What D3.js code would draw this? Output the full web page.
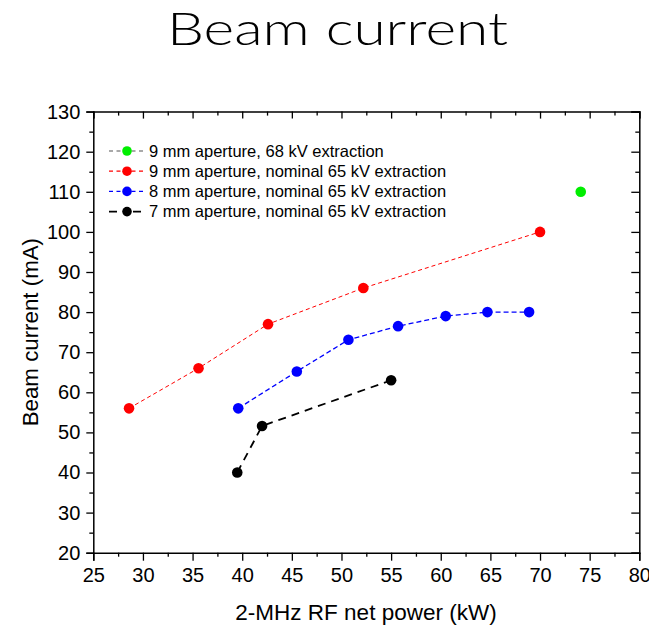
<!DOCTYPE html>
<html>
<head>
<meta charset="utf-8">
<script src="https://cdn.jsdelivr.net/npm/d3@7"></script>
<style>
  html, body { margin: 0; padding: 0; background: #fff; }
  svg { display: block; }
</style>
</head>
<body>
<div id="chart"></div>
<script>
// Beam current versus RF net power for several aperture sizes
const xTicks = [25, 30, 35, 40, 45, 50, 55, 60, 65, 70, 75, 80];
const yTicks = [20, 30, 40, 50, 60, 70, 80, 90, 100, 110, 120, 130];

const green68kV = [[74.1, 110]];
const red9mm = [[28.6, 56], [35.6, 66], [42.6, 77], [52.2, 86], [70.0, 100]];
const blue8mm = [[39.6, 56], [45.5, 65.2], [50.7, 73.1], [55.7, 76.5], [60.5, 79], [64.7, 80], [68.9, 80]];
const black7mm = [[39.5, 40], [42.0, 51.6], [55.0, 63]];

const seriesNames = [
  "9 mm aperture, 68 kV extraction",
  "9 mm aperture, nominal 65 kV extraction",
  "8 mm aperture, nominal 65 kV extraction",
  "7 mm aperture, nominal 65 kV extraction"
];
const seriesColors = ["#00ee00", "#ff0000", "#0000ff", "#000000"];
const seriesData = [green68kV, red9mm, blue8mm, black7mm];
const seriesDash = ["4,3", "4,3", "5,3", "8,6"];
const seriesWidth = [1, 1, 1.3, 1.8];

const W = 649, H = 627;
const svg = d3.select("#chart").append("svg").attr("width", W).attr("height", H);

const x = d3.scaleLinear().domain([25, 80]).range([93.3, 639.3]);
const y = d3.scaleLinear().domain([20, 130]).range([552.7, 111.6]);

const font = "'Liberation Sans', Arial, sans-serif";

// Title
svg.append("text")
  .attr("x", 167).attr("y", 45)
  .attr("font-family", "Lato, 'Open Sans', sans-serif")
  .attr("font-weight", 300)
  .attr("font-size", 46)
  .attr("textLength", 341)
  .attr("lengthAdjust", "spacingAndGlyphs")
  .attr("fill", "#000")
  .text("Beam current");

// Minor tick values (halfway between majors)
const xMinor = d3.range(27.5, 80, 5);
const yMinor = d3.range(25, 130, 10);

const axisG = svg.append("g");

// Bottom axis: outward ticks with labels
const axBottom = axisG.append("g").attr("transform", `translate(0,${y(20)})`)
  .call(d3.axisBottom(x).tickValues(xTicks).tickSize(8).tickPadding(7).tickFormat(d3.format("d")));
axBottom.append("g").attr("class", "minor").call(d3.axisBottom(x).tickValues(xMinor).tickSize(4).tickFormat(""));

// Left axis: outward ticks with labels
const axLeft = axisG.append("g").attr("transform", `translate(${x(25)},0)`)
  .call(d3.axisLeft(y).tickValues(yTicks).tickSize(7).tickPadding(6).tickFormat(d3.format("d")));
axLeft.append("g").attr("class", "minor").call(d3.axisLeft(y).tickValues(yMinor).tickSize(4).tickFormat(""));

// Top axis: inward ticks, no labels
const axTop = axisG.append("g").attr("transform", `translate(0,${y(130)})`)
  .call(d3.axisTop(x).tickValues(xTicks).tickSize(-7).tickFormat(""));
axTop.append("g").attr("class", "minor").call(d3.axisTop(x).tickValues(xMinor).tickSize(-4).tickFormat(""));

// Right axis: inward ticks, no labels
const axRight = axisG.append("g").attr("transform", `translate(${x(80)},0)`)
  .call(d3.axisRight(y).tickValues(yTicks).tickSize(-8).tickFormat(""));
axRight.append("g").attr("class", "minor").call(d3.axisRight(y).tickValues(yMinor).tickSize(-4).tickFormat(""));

axisG.selectAll(".domain").attr("stroke", "#000").attr("stroke-width", 1.5);
axisG.selectAll(".minor .domain").attr("stroke", "none");
axisG.selectAll(".tick line").attr("stroke", "#000").attr("stroke-width", 1.3);
axisG.selectAll(".tick text")
  .attr("font-family", font).attr("font-size", 20).attr("fill", "#000");

// Axis titles
svg.append("text")
  .attr("x", 366).attr("y", 620)
  .attr("text-anchor", "middle")
  .attr("font-family", font).attr("font-size", 22.5)
  .text("2-MHz RF net power (kW)");

svg.append("text")
  .attr("transform", `translate(38,${(y(20) + y(130)) / 2}) rotate(-90)`)
  .attr("text-anchor", "middle")
  .attr("font-family", font).attr("font-size", 22.3)
  .text("Beam current (mA)");

// Series lines and markers
const line = d3.line().x(d => x(d[0])).y(d => y(d[1]));
seriesData.forEach((data, i) => {
  if (data.length > 1) {
    svg.append("path")
      .datum(data)
      .attr("d", line)
      .attr("fill", "none")
      .attr("stroke", seriesColors[i])
      .attr("stroke-width", seriesWidth[i])
      .attr("stroke-dasharray", seriesDash[i]);
  }
  svg.append("g").selectAll("circle")
    .data(data).join("circle")
    .attr("cx", d => x(d[0]))
    .attr("cy", d => y(d[1]))
    .attr("r", 5.3)
    .attr("fill", seriesColors[i]);
});

// Legend
const legend = svg.append("g").attr("transform", "translate(109,151)");
seriesNames.forEach((name, i) => {
  const g = legend.append("g").attr("transform", `translate(0,${i * 20.2})`);
  g.append("line")
    .attr("x1", 0).attr("x2", 34).attr("y1", 0).attr("y2", 0)
    .attr("stroke", i === 0 ? "#555" : seriesColors[i])
    .attr("stroke-width", i === 3 ? 1.8 : 1.2)
    .attr("stroke-dasharray", i === 3 ? "8,16" : "4,3.5");
  g.append("circle").attr("cx", 18).attr("cy", 0).attr("r", 4.8).attr("fill", seriesColors[i]);
  g.append("text")
    .attr("x", 40).attr("y", 5.5)
    .attr("font-family", font).attr("font-size", 16.5)
    .text(name);
});
</script>
</body>
</html>
